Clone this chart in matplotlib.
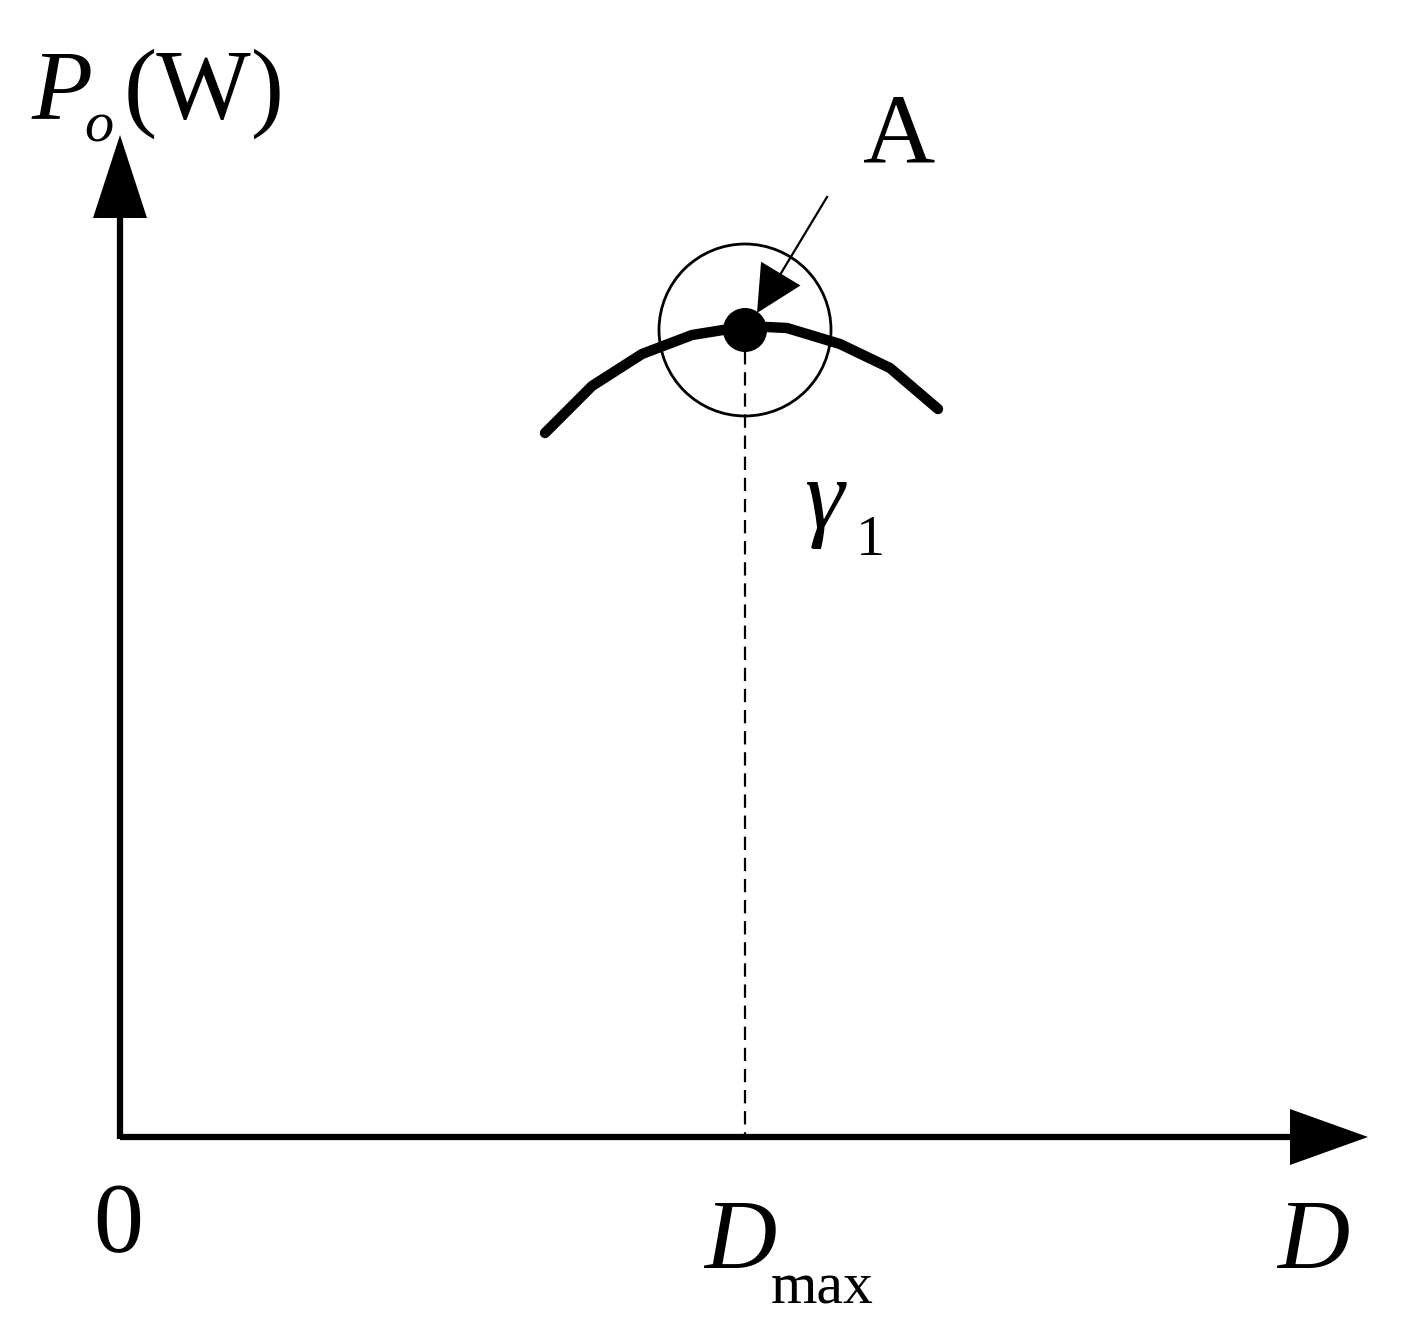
import numpy as np
import matplotlib
matplotlib.use("Agg")
import matplotlib.pyplot as plt
from matplotlib.patches import Circle, Polygon

plt.rcParams['mathtext.fontset'] = 'custom'
plt.rcParams['mathtext.rm'] = 'Liberation Serif'
plt.rcParams['mathtext.it'] = 'Liberation Serif:italic'
plt.rcParams['font.family'] = ['Liberation Serif', 'DejaVu Serif']

# ---- data (diagram coordinates, pixel-like units, y grows downward) ----
curve_x = [545, 592, 642, 692, 723, 745, 767, 787, 840, 890, 938]
curve_y = [433, 386, 354, 335, 330, 330, 327, 328, 344, 368, 409]
origin = (120, 1137)
x_axis_end = 1368
y_axis_end = 135
peak = (745, 330)
circle_r = 86
pointer_start = (827, 197)
pointer_tip = (757, 313)

W, H = 1407, 1334
fig = plt.figure(figsize=(W / 100, H / 100), dpi=100)
ax = fig.add_axes([0, 0, 1, 1])
ax.set_xlim(0, W)
ax.set_ylim(H, 0)
ax.axis('off')


def head(tip, frm, length, half_w):
    tip = np.array(tip, float)
    d = tip - np.array(frm, float)
    d /= np.hypot(*d)
    n = np.array([-d[1], d[0]])
    base = tip - d * length
    return [tip, base + n * half_w, base - n * half_w], base


# axes
ox, oy = origin
tri, base = head((x_axis_end, oy), (ox, oy), 78, 28)
ax.plot([ox, base[0]], [oy, oy], color='black', lw=4.5, solid_capstyle='butt')
ax.add_patch(Polygon(tri, closed=True, color='black', lw=0))
tri, base = head((ox, y_axis_end), (ox, oy), 83, 27)
ax.plot([ox, ox], [oy + 2, base[1]], color='black', lw=4.5, solid_capstyle='butt')
ax.add_patch(Polygon(tri, closed=True, color='black', lw=0))

# dashed drop line
ax.plot([peak[0], peak[0]], [peak[1], oy], color='black', lw=1.6,
        dashes=(6, 3.5))

# curve
ax.plot(curve_x, curve_y, color='black', lw=7.5, solid_capstyle='round',
        solid_joinstyle='round')

# circle and dot
ax.add_patch(Circle(peak, circle_r, fill=False, ec='black', lw=2))
ax.add_patch(Circle(peak, 22, color='black', lw=0, zorder=5))

# pointer arrow
tri, base = head(pointer_tip, pointer_start, 46, 23)
ax.plot([pointer_start[0], base[0]], [pointer_start[1], base[1]],
        color='black', lw=1.6)
ax.add_patch(Polygon(tri, closed=True, color='black', lw=0))

# texts
fs = 72
sub = 42
ax.text(32, 118, 'P', fontsize=fs, style='italic', ha='left', va='baseline')
ax.text(84, 142, 'o', fontsize=sub, style='italic', ha='left', va='baseline')
ax.text(124, 118, '(W)', fontsize=fs, ha='left', va='baseline')
ax.text(899, 163, 'A', fontsize=fs, ha='center', va='baseline')
ax.text(804, 528, r'$\gamma$', fontsize=fs, ha='left', va='baseline')
ax.text(856, 555, '1', fontsize=sub, ha='left', va='baseline')
ax.text(118, 1251, '0', fontsize=fs, ha='center', va='baseline')
ax.text(704, 1268, 'D', fontsize=fs, style='italic', ha='left', va='baseline')
ax.text(771, 1304, 'max', fontsize=sub + 1, ha='left', va='baseline')
ax.text(1313, 1268, 'D', fontsize=fs, style='italic', ha='center', va='baseline')

fig.savefig('out.png', dpi=100, facecolor='white')
